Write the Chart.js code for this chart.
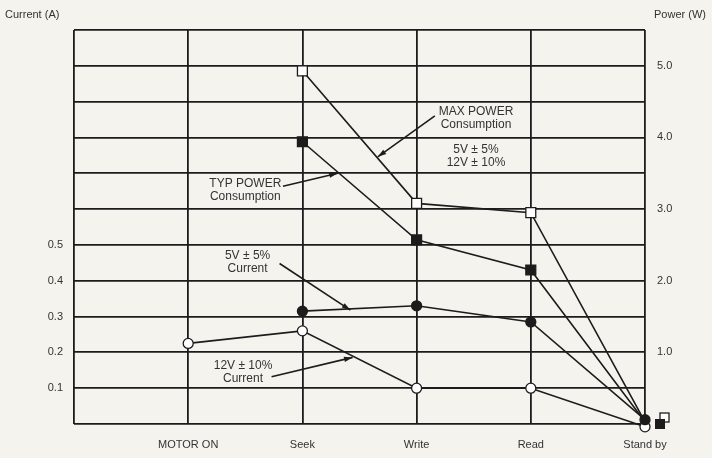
<!DOCTYPE html>
<html>
<head>
<meta charset="utf-8">
<script src="https://cdn.jsdelivr.net/npm/chart.js@4.4.0/dist/chart.umd.min.js"></script>
<style>
  html, body { margin: 0; padding: 0; background: #f5f3ee; }
  #wrap { width: 712px; height: 458px; }
</style>
</head>
<body>
<div id="wrap"><canvas id="powerChart" width="712" height="458"></canvas></div>
<script>
// -- data --
var categories  = ['MOTOR ON', 'Seek', 'Write', 'Read', 'Stand by'];
var maxPower    = [null, 4.93, 3.08, 2.95, 0.03];   // W, open square
var typPower    = [null, 3.94, 2.57, 2.15, 0.03];   // W, filled square
var current5V   = [null, 0.315, 0.33, 0.285, 0.012]; // A, filled circle
var current12V  = [0.225, 0.26, 0.10, 0.10, -0.008]; // A, open circle
var currentTicks = [0.1, 0.2, 0.3, 0.4, 0.5];
var powerTicks   = [1, 2, 3, 4, 5];

var ink  = '#1c1c1c';
var txt  = '#333333';
var font = "'Liberation Sans', Arial, sans-serif";

// turn a value list into {x,y} points on the category positions (1..5)
function toPoints(vals) {
    var pts = [];
    vals.forEach(function (v, i) {
        if (v !== null) pts.push({ x: i + 1, y: v });
    });
    return pts;
}

// notes and arrows, placed in data units (x = category position, y = power W)
var notes = [
    { lines: ['MAX POWER', 'Consumption'], x: 3.52, y: 4.36 },
    { lines: ['5V \u00b1 5%', '12V \u00b1 10%'], x: 3.52, y: 3.83 },
    { lines: ['TYP POWER', 'Consumption'], x: 1.5, y: 3.35 },
    { lines: ['5V \u00b1 5%', 'Current'], x: 1.52, y: 2.35 },
    { lines: ['12V \u00b1 10%', 'Current'], x: 1.48, y: 0.82 }
];
var arrows = [
    { from: [3.16, 4.3], to: [2.66, 3.73] },
    { from: [1.83, 3.32], to: [2.31, 3.5] },
    { from: [1.8, 2.24], to: [2.42, 1.59] },
    { from: [1.73, 0.66], to: [2.44, 0.93] }
];

var annotate = {
    id: 'annotate',
    afterDatasetsDraw: function (chart) {
        var c = chart.ctx, xs = chart.scales.x, ys = chart.scales.yP;
        c.save();
        // axis titles
        c.font = '11px ' + font;
        c.fillStyle = txt;
        c.textBaseline = 'middle';
        c.textAlign = 'left';
        c.fillText('Current (A)', 5, 15);
        c.fillText('Power (W)', 654, 15);

        c.font = '12px ' + font;
        c.textAlign = 'center';
        notes.forEach(function (n) {
            var px = xs.getPixelForValue(n.x), py = ys.getPixelForValue(n.y);
            n.lines.forEach(function (l, i) {
                c.fillText(l, px, py + i * 13);
            });
        });

        c.strokeStyle = ink;
        c.fillStyle = ink;
        c.lineWidth = 1.6;
        arrows.forEach(function (a) {
            var x1 = xs.getPixelForValue(a.from[0]), y1 = ys.getPixelForValue(a.from[1]);
            var x2 = xs.getPixelForValue(a.to[0]), y2 = ys.getPixelForValue(a.to[1]);
            var ang = Math.atan2(y2 - y1, x2 - x1);
            c.beginPath(); c.moveTo(x1, y1); c.lineTo(x2, y2); c.stroke();
            c.beginPath();
            c.moveTo(x2, y2);
            c.lineTo(x2 - 9 * Math.cos(ang - 0.3), y2 - 9 * Math.sin(ang - 0.3));
            c.lineTo(x2 - 9 * Math.cos(ang + 0.3), y2 - 9 * Math.sin(ang + 0.3));
            c.closePath(); c.fill();
        });

        // power markers at stand by are drawn shifted aside in the original
        var sx = xs.getPixelForValue(5), sy = ys.getPixelForValue(0);
        c.lineWidth = 1.3;
        c.fillStyle = '#fff';
        c.fillRect(sx + 15, sy - 11, 9, 9);
        c.strokeRect(sx + 15, sy - 11, 9, 9);
        c.fillStyle = ink;
        c.fillRect(sx + 10, sy - 5, 10, 10);
        c.restore();
    }
};

var lastHidden = function (n, r) {
    var out = []; for (var i = 0; i < n - 1; i++) out.push(r); out.push(0); return out;
};

var ds = function (label, vals, axis, style, fill, radius) {
    return {
        label: label,
        data: toPoints(vals),
        yAxisID: axis,
        borderColor: ink,
        borderWidth: 1.6,
        pointStyle: style,
        pointBackgroundColor: fill,
        pointBorderColor: ink,
        pointBorderWidth: 1.3,
        pointRadius: radius,
        tension: 0,
        clip: false
    };
};

new Chart(document.getElementById('powerChart'), {
    type: 'line',
    data: {
        datasets: [
            ds('Max power', maxPower, 'yP', 'rect', '#ffffff', lastHidden(4, 7)),
            ds('Typ power', typPower, 'yP', 'rect', ink, lastHidden(4, 7)),
            ds('5V current', current5V, 'yC', 'circle', ink, 5),
            ds('12V current', current12V, 'yC', 'circle', '#ffffff', 5)
        ]
    },
    options: {
        responsive: false,
        animation: false,
        layout: { padding: { top: 30, left: 0, right: 0, bottom: 0 } },
        plugins: { legend: { display: false }, tooltip: { enabled: false } },
        scales: {
            x: {
                type: 'linear', min: 0, max: 5,
                ticks: {
                    stepSize: 1, color: txt, padding: 14,
                    font: { family: font, size: 11 },
                    maxRotation: 0,
                    callback: function (v) { return v >= 1 ? categories[v - 1] : ''; }
                },
                grid: { color: ink, lineWidth: 1.8, drawTicks: false },
                border: { display: false },
                afterFit: function (s) { s.height = 34; }
            },
            yC: {
                position: 'left', min: 0, max: 1.1,
                ticks: {
                    stepSize: 0.1, color: txt, padding: 11,
                    font: { family: font, size: 11 },
                    callback: function (v) {
                        var r = Math.round(v * 10) / 10;
                        return currentTicks.indexOf(r) >= 0 ? r.toFixed(1) : '';
                    }
                },
                grid: { color: ink, lineWidth: 1.8, drawTicks: false },
                border: { display: false },
                afterFit: function (s) { s.width = 74; }
            },
            yP: {
                position: 'right', min: 0, max: 5.5,
                ticks: {
                    stepSize: 0.5, color: txt, padding: 12,
                    font: { family: font, size: 11 },
                    callback: function (v) {
                        return powerTicks.indexOf(v) >= 0 ? v.toFixed(1) : '';
                    }
                },
                grid: { display: false, drawTicks: false },
                border: { display: false },
                afterFit: function (s) { s.width = 67; }
            }
        }
    },
    plugins: [annotate]
});
</script>
</body>
</html>
